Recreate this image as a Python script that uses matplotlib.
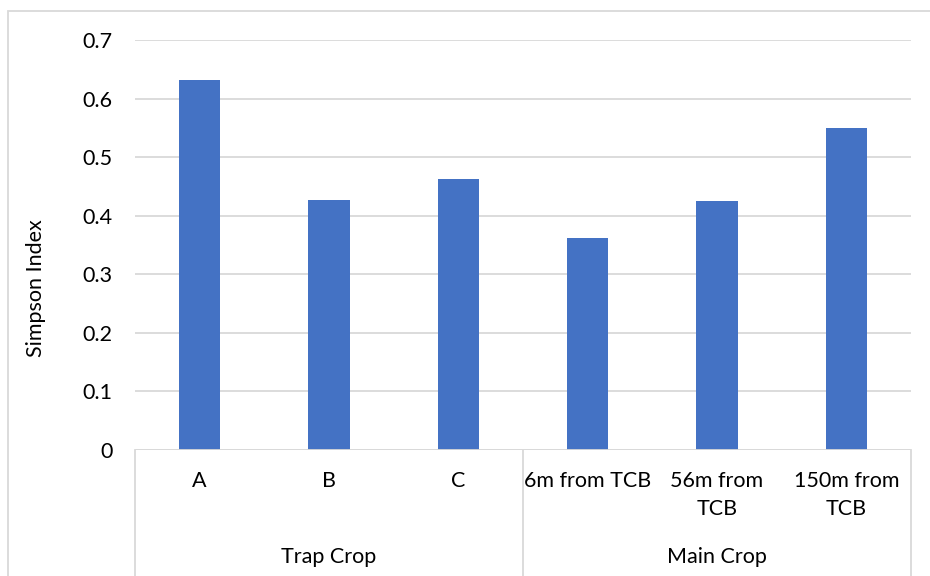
import matplotlib.pyplot as plt
from matplotlib.transforms import blended_transform_factory
from matplotlib.lines import Line2D
from matplotlib.patches import Rectangle

plt.rcParams['font.family'] = ['Lato', 'DejaVu Sans']

# Simpson index per sampling site
categories = ['A', 'B', 'C', '6m from TCB', '56m from\nTCB', '150m from\nTCB']
groups = ['Trap Crop', 'Main Crop']
group_sizes = [3, 3]
simpson = [0.632, 0.427, 0.463, 0.362, 0.425, 0.550]

grid_col = '#D9D9D9'
bar_col = '#4472C4'
txt_col = '#000000'
fs = 15.5

fig = plt.figure(figsize=(9.3, 5.76), dpi=100)
ax = fig.add_axes([135 / 930, 126 / 576, 776 / 930, 410 / 576])

x = list(range(len(categories)))
ax.bar(x, simpson, width=0.32, color=bar_col, zorder=3)

ax.set_xlim(-0.5, len(categories) - 0.5)
ax.set_ylim(0, 0.7)
ax.set_yticks([i / 10 for i in range(8)])
ax.set_yticklabels(['0'] + [f'{i / 10:.1f}' for i in range(1, 8)])
ax.tick_params(axis='y', length=0, pad=16, labelsize=fs, colors=txt_col)
ax.set_xticks([])
ax.grid(axis='y', color=grid_col, linewidth=1.3, zorder=0)
for s in ax.spines.values():
    s.set_visible(False)
ax.axhline(0, color=grid_col, linewidth=1.3, zorder=4)

ax.set_ylabel('Simpson Index', fontsize=fs)
ax.yaxis.set_label_coords(46 / 930, 0.5, transform=fig.transFigure)

# two-level category axis below the plot
trans = blended_transform_factory(ax.transData, fig.transFigure)
for xi, lab in zip(x, categories):
    ax.text(xi, 1 - 471 / 576, lab, transform=trans, ha='center', va='top',
            fontsize=fs, linespacing=1.5)

edges = [-0.5]
for n in group_sizes:
    edges.append(edges[-1] + n)
for e in edges:
    fig.add_artist(Line2D([e, e], [0, 126 / 576], transform=trans,
                          color=grid_col, linewidth=1.3))
for g, lo, hi in zip(groups, edges[:-1], edges[1:]):
    ax.text((lo + hi) / 2, 1 - 557 / 576, g, transform=trans, ha='center',
            va='center', fontsize=fs)

# outer chart border
fig.add_artist(Rectangle((8 / 930, -0.1), 1.2, 1 - 11 / 576 + 0.1,
                         transform=fig.transFigure, fill=False,
                         edgecolor=grid_col, linewidth=1.3))

fig.savefig('out.png', dpi=100)
